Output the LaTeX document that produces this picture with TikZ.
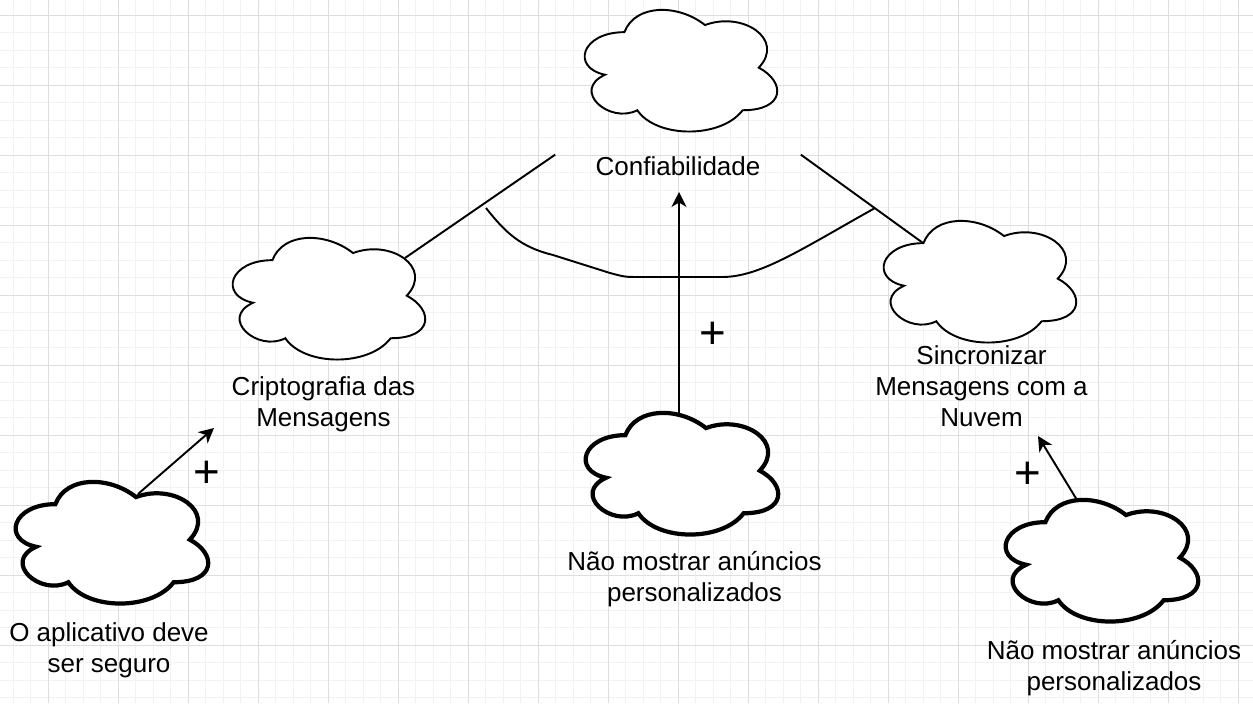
\documentclass[tikz,border=0pt]{standalone}
\usepackage{fontspec}
\setmainfont{Liberation Sans}
\usetikzlibrary{arrows.meta,calc}

\definecolor{gridminor}{gray}{0.95}
\definecolor{gridmajor}{gray}{0.87}

% contorno de nuvem (softgoal) dentro da caixa do no #2
\newcommand{\nuvem}[2][1.1pt]{%
  \draw[line width=#1, fill=white, shift={(#2.north west)}, x=4.3cm, y=-2.84cm]
    (0.25,0.25) .. controls (0.05,0.25) and (0,0.5) .. (0.16,0.55)
    .. controls (0,0.66) and (0.18,0.9) .. (0.31,0.8)
    .. controls (0.4,1) and (0.7,1) .. (0.8,0.8)
    .. controls (1,0.8) and (1,0.6) .. (0.875,0.5)
    .. controls (1,0.3) and (0.8,0.1) .. (0.625,0.2)
    .. controls (0.5,0.05) and (0.3,0.05) .. (0.25,0.25) -- cycle;}

\tikzset{
  softgoal/.style={minimum width=4.3cm, minimum height=2.84cm, inner sep=0pt},
  rotulo/.style={font=\fontsize{14.8}{17.6}\selectfont, align=center, inner sep=0pt},
  contrib/.style={font=\fontsize{26}{26}\selectfont, inner sep=0pt},
  ligacao/.style={line width=1.1pt},
  seta/.style={ligacao, -{Stealth[length=8.5pt,width=8.5pt,inset=2.5pt]}}
}

\begin{document}
\begin{tikzpicture}[x=0.02cm, y=-0.02cm]
        \useasboundingbox (0,0) rectangle (1253,703);
        % fundo quadriculado
        \fill[white] (0,0) rectangle (1253,703);
        \foreach \gx in {13,30.5,...,1253} \draw[gridminor, line width=0.5pt] (\gx,0) -- (\gx,703);
        \foreach \gy in {15,32.5,...,703} \draw[gridminor, line width=0.5pt] (0,\gy) -- (1253,\gy);
        \foreach \gx in {48,118,...,1253} \draw[gridmajor, line width=0.5pt] (\gx,0) -- (\gx,703);
        \foreach \gy in {15,85,...,703} \draw[gridmajor, line width=0.5pt] (0,\gy) -- (1253,\gy);

        \node[softgoal] at (678.5,68) (conf) {};
        \node[softgoal] at (326.5,296) (cript) {};
        \node[softgoal] at (977.5,279) (sinc) {};
        \node[softgoal] at (679.5,471) (anunc) {};
        \node[softgoal] at (109.5,540) (seguro) {};
        \node[softgoal] at (1099.5,558) (anunc2) {};
        \nuvem{conf}
        \nuvem{cript}
        \nuvem{sinc}
        \nuvem[2.4pt]{anunc}
        \nuvem[2.4pt]{seguro}
        \nuvem[2.4pt]{anunc2}

        \node[rotulo, minimum width=4.9cm, minimum height=0.44cm] at (678,166) (conftxt) {Confiabilidade};
        \node[rotulo] at (323.5,404) (cripttxt) {Criptografia das\\Mensagens};
        \node[rotulo] at (981.5,386) (sinctxt) {Sincronizar\\Mensagens com a\\Nuvem};
        \node[rotulo] at (694.5,579) (anunctxt) {Não mostrar anúncios\\personalizados};
        \node[rotulo] at (109,650) (segurotxt) {O aplicativo deve\\ser seguro};
        \node[rotulo] at (1114,668) (anunc2txt) {Não mostrar anúncios\\personalizados};

        \node[contrib] at (206.5,474) (mais1) {+};
        \node[contrib] at (713,335) (mais2) {+};
        \node[contrib] at (1028,475) (mais3) {+};

        \coordinate (criptin) at (214,428);
        \coordinate (confin) at (679,192);
        \coordinate (sincin) at (1038,436);
        \coordinate (andl) at (486,208);
        \coordinate (andr) at (875,208);

        \draw[ligacao] (conftxt.north west) -- ($(cript)+(78.5,-38)$);
        \draw[ligacao] (conftxt.north east) -- ($(sinc)+(-54.5,-36)$);
        \draw[ligacao] (andl) .. controls (505,232) and (520,247) .. (553,255) -- (610,273)
            .. controls (625,277) .. (640,277) -- (722,277) .. controls (760,277) and (800,250) .. (andr);

        \draw[seta] ($(seguro)+(28.5,-46)$) -- (criptin);
        \draw[seta] ($(anunc)+(-0.5,-57)$) -- (confin);
        \draw[seta] ($(anunc2)+(-22.5,-58)$) -- (sincin);
\end{tikzpicture}
\end{document}
